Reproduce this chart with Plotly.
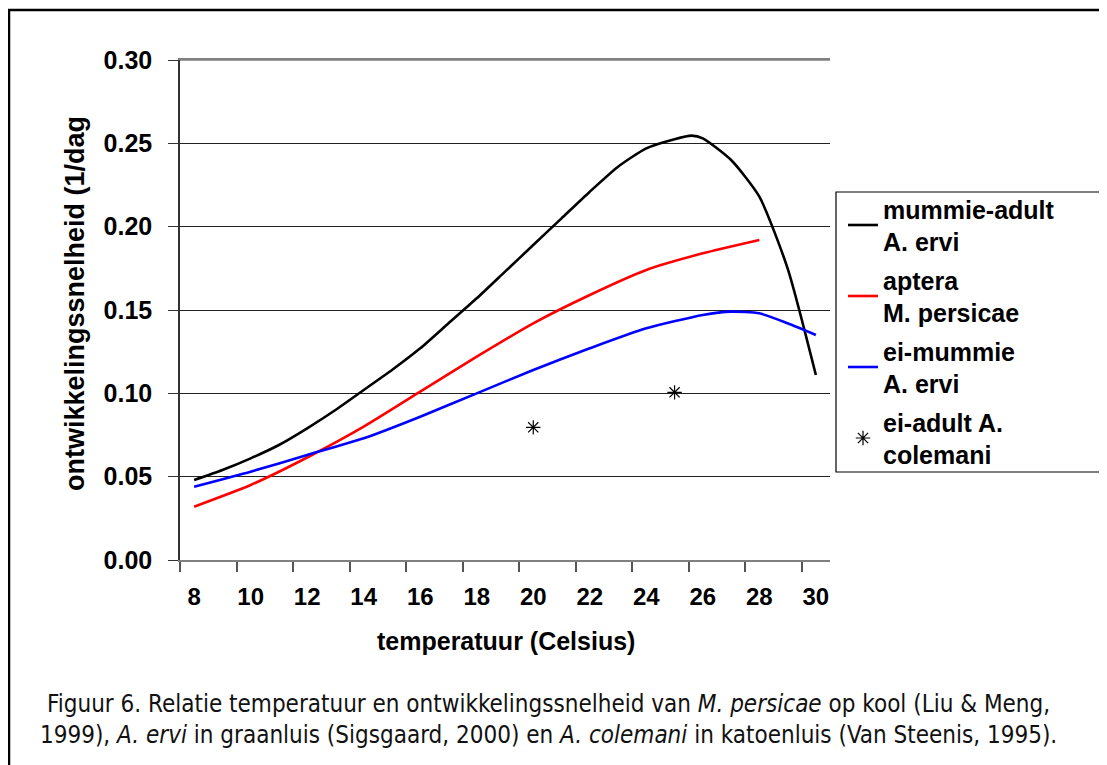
import plotly.graph_objects as go

# === DATA ===
temp_mummie_adult = [8, 9, 10, 11, 12, 13, 14, 15, 16, 17, 18, 19, 20, 21, 22, 23, 24, 25, 25.6, 26, 27, 28, 29, 30]
rate_mummie_adult = [0.048, 0.054, 0.061, 0.069, 0.079, 0.090, 0.102, 0.114, 0.127, 0.142, 0.157, 0.173,
                     0.189, 0.205, 0.221, 0.236, 0.247, 0.2525, 0.2546, 0.253, 0.240, 0.218, 0.175, 0.111]

temp_aptera = [8, 10, 12, 14, 16, 18, 20, 22, 24, 26, 28]
rate_aptera = [0.032, 0.045, 0.0615, 0.080, 0.101, 0.122, 0.142, 0.159, 0.174, 0.184, 0.192]

temp_ei_mummie = [8, 10, 12, 14, 16, 18, 20, 22, 24, 26, 27, 28, 29, 30]
rate_ei_mummie = [0.044, 0.053, 0.063, 0.073, 0.086, 0.100, 0.114, 0.127, 0.139, 0.147, 0.149, 0.148, 0.142, 0.135]

temp_ei_adult = [20, 25]
rate_ei_adult = [0.0796, 0.1006]

x_ticks = list(range(8, 31, 2))
y_ticks = [0.0, 0.05, 0.10, 0.15, 0.20, 0.25, 0.30]

labels = ["mummie-adult<br>A. ervi", "aptera<br>M. persicae", "ei-mummie<br>A. ervi", "ei-adult A.<br>colemani"]

# === FIGURE ===
font_main = "Liberation Sans, Arial, sans-serif"
font_narrow = "DejaVu Sans Condensed, Liberation Sans Narrow, Arial Narrow, sans-serif"

# plot area in screen px (page has an 8px body offset)
L, R, T, B = 180, 830, 60, 560


def px(x):
    return (x - L) / (R - L)


def py(y):
    return (B - y) / (B - T)


fig = go.Figure()
fig.add_trace(go.Scatter(x=temp_mummie_adult, y=rate_mummie_adult, mode="lines", name=labels[0],
                         line=dict(color="black", width=2.6, shape="spline", smoothing=0.6),
                         legendgroup="a"))
fig.add_trace(go.Scatter(x=temp_aptera, y=rate_aptera, mode="lines", name=labels[1],
                         line=dict(color="#ff0000", width=2.6, shape="spline", smoothing=0.6),
                         legendgroup="b"))
fig.add_trace(go.Scatter(x=temp_ei_mummie, y=rate_ei_mummie, mode="lines", name=labels[2],
                         line=dict(color="#0000ff", width=2.6, shape="spline", smoothing=0.6),
                         legendgroup="c"))
fig.add_trace(go.Scatter(x=temp_ei_adult, y=rate_ei_adult, mode="markers", name=labels[3],
                         marker=dict(symbol="asterisk-open", size=12, color="black",
                                     line=dict(color="black", width=1.2)),
                         legendgroup="d"))

fig.update_layout(
    width=1107, height=765,
    margin=dict(l=L - 8, r=1107 - R + 8, t=T - 8, b=765 - B + 8),
    paper_bgcolor="white", plot_bgcolor="white",
    font=dict(family=font_main, color="black"),
    showlegend=True,
    legend=dict(x=px(843), y=py(186), xanchor="left", yanchor="top",
                borderwidth=0, bgcolor="rgba(0,0,0,0)",
                font=dict(family=font_main, size=25, color="black", weight="bold"),
                tracegroupgap=3, itemwidth=30),
)

fig.update_xaxes(
    range=[7.5, 30.5], tickmode="array", tickvals=x_ticks, ticktext=[str(v) for v in x_ticks],
    ticks="", ticklabelstandoff=14,
    tickfont=dict(family=font_main, size=24, weight="bold"),
    showgrid=False, zeroline=False,
    showline=True, linecolor="#808080", linewidth=1.5, mirror=True,
    minor=dict(tickmode="array", tickvals=[v - 0.5 for v in x_ticks], ticks="outside",
               ticklen=10, tickcolor="#555555", tickwidth=1.5, showgrid=False),
)
fig.update_yaxes(
    range=[0, 0.30], tickmode="array", tickvals=y_ticks, ticktext=["%.2f" % v for v in y_ticks],
    ticks="outside", ticklen=10, tickcolor="#333333", tickwidth=1, ticklabelstandoff=11,
    tickfont=dict(family=font_main, size=25, weight="bold"),
    showgrid=True, gridcolor="#222222", gridwidth=1, zeroline=False,
    showline=True, linecolor="#333333", linewidth=1.5,
)

# grey top frame of the plot area
fig.add_shape(type="line", xref="paper", yref="paper", x0=0, x1=1, y0=1, y1=1,
              line=dict(color="#808080", width=1.5))

# legend box
fig.add_shape(type="rect", xref="paper", yref="paper",
              x0=px(836), x1=px(1100), y0=py(472), y1=py(192),
              line=dict(color="black", width=1.2), fillcolor="white", layer="below")

# outer border (right and bottom edges fall outside the page)
fig.add_shape(type="rect", xref="paper", yref="paper",
              x0=px(9), x1=px(1125), y0=py(780), y1=py(10),
              line=dict(color="black", width=2.5), layer="below")

# axis titles
fig.add_annotation(text="temperatuur (Celsius)", xref="paper", yref="paper",
                   x=px(506), y=py(641), xanchor="center", yanchor="middle", showarrow=False,
                   font=dict(family=font_main, size=25, weight="bold"))
fig.add_annotation(text="ontwikkelingssnelheid (1/dag", xref="paper", yref="paper",
                   x=px(75), y=py(304), xanchor="center", yanchor="middle", textangle=-90, showarrow=False,
                   font=dict(family=font_main, size=27, weight="bold"))

# caption
fig.add_annotation(
    text="Figuur 6. Relatie temperatuur en ontwikkelingssnelheid van <i>M. persicae</i> op kool (Liu &amp; Meng,<br>"
         "1999), <i>A. ervi</i> in graanluis (Sigsgaard, 2000) en <i>A. colemani</i> in katoenluis (Van Steenis, 1995).",
    xref="paper", yref="paper", x=px(548), y=py(719), xanchor="center", yanchor="middle", showarrow=False,
    align="center", font=dict(family=font_narrow, size=24, color="#111111"))

fig.write_html("out.html")
